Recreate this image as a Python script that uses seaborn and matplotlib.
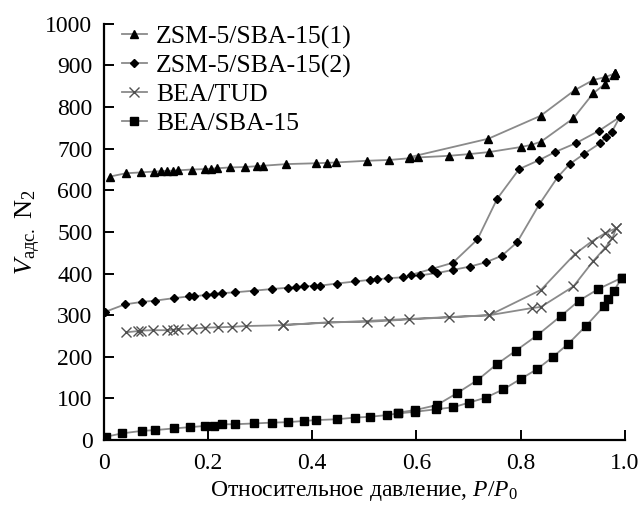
import numpy as np
import pandas as pd
import seaborn as sns
import matplotlib
matplotlib.use('Agg')
import matplotlib.pyplot as plt

# ZSM-5/SBA-15(1): adsorption then desorption branch
zsm1_ads_x = [0.012, 0.043, 0.071, 0.096, 0.110, 0.121, 0.133, 0.143, 0.169, 0.195, 0.207, 0.218,
              0.243, 0.271, 0.294, 0.305, 0.350, 0.407, 0.428, 0.446, 0.505, 0.548, 0.586, 0.604,
              0.663, 0.701, 0.740, 0.800, 0.820, 0.839, 0.901, 0.939, 0.962, 0.978, 0.981]
zsm1_ads_y = [633, 641, 643, 645, 646, 647, 647, 648, 650, 651, 652, 653,
              655, 656, 658, 659, 663, 665, 666, 667, 671, 673, 677, 679,
              683, 687, 692, 704, 709, 717, 773, 833, 856, 877, 881]
zsm1_des_x = [0.981, 0.962, 0.939, 0.904, 0.838, 0.738, 0.588]
zsm1_des_y = [881, 872, 865, 841, 779, 724, 680]

# ZSM-5/SBA-15(2)
zsm2_ads_x = [0.003, 0.041, 0.074, 0.099, 0.135, 0.163, 0.174, 0.196, 0.212, 0.228, 0.252, 0.289,
              0.324, 0.353, 0.369, 0.385, 0.404, 0.415, 0.447, 0.482, 0.511, 0.525, 0.546, 0.575,
              0.607, 0.639, 0.671, 0.703, 0.733, 0.764, 0.793, 0.836, 0.871, 0.894, 0.922, 0.952,
              0.964, 0.975, 0.990]
zsm2_ads_y = [308, 326, 332, 335, 341, 345, 345, 349, 351, 353, 355, 359,
              363, 366, 367, 369, 371, 371, 376, 381, 385, 386, 389, 391,
              396, 401, 409, 417, 427, 443, 475, 567, 632, 663, 688, 713,
              729, 741, 776]
zsm2_des_x = [0.990, 0.950, 0.907, 0.866, 0.836, 0.797, 0.755, 0.717, 0.670, 0.629, 0.590]
zsm2_des_y = [776, 743, 714, 692, 673, 651, 580, 482, 426, 411, 397]

# BEA/TUD
tud_ads_x = [0.044, 0.067, 0.072, 0.094, 0.121, 0.133, 0.142, 0.169, 0.195, 0.220, 0.246, 0.273,
             0.345, 0.431, 0.505, 0.548, 0.586, 0.663, 0.740, 0.821, 0.839, 0.901, 0.939, 0.962,
             0.976, 0.983]
tud_ads_y = [259, 262, 263, 264, 264, 265, 266, 268, 270, 271, 272, 274,
             276, 283, 284, 287, 290, 295, 300, 317, 320, 369, 430, 462,
             485, 509]
tud_des_x = [0.983, 0.962, 0.936, 0.904, 0.839, 0.740, 0.345]
tud_des_y = [509, 497, 477, 447, 361, 300, 277]

# BEA/SBA-15
sba_ads_x = [0.005, 0.035, 0.073, 0.099, 0.135, 0.165, 0.195, 0.212, 0.228, 0.252, 0.289, 0.324,
             0.353, 0.385, 0.407, 0.447, 0.482, 0.511, 0.543, 0.565, 0.597, 0.638, 0.671, 0.701,
             0.733, 0.767, 0.800, 0.831, 0.861, 0.891, 0.925, 0.960, 0.968, 0.978, 0.994]
sba_ads_y = [8, 16, 22, 24, 28, 31, 34, 34, 38, 38, 40, 42,
             43, 46, 48, 50, 54, 56, 60, 64, 68, 74, 79, 90,
             102, 122, 147, 170, 199, 231, 274, 322, 338, 357, 390]
sba_des_x = [0.994, 0.949, 0.912, 0.877, 0.832, 0.791, 0.755, 0.717, 0.677, 0.639, 0.597, 0.565]
sba_des_y = [390, 363, 335, 298, 252, 215, 183, 144, 112, 84, 72, 66]

labels = ['ZSM-5/SBA-15(1)', 'ZSM-5/SBA-15(2)', 'BEA/TUD', 'BEA/SBA-15']

plt.rcParams['font.family'] = ['Liberation Serif', 'DejaVu Serif']
plt.rcParams['mathtext.fontset'] = 'custom'
plt.rcParams['mathtext.rm'] = 'Liberation Serif'
plt.rcParams['mathtext.it'] = 'Liberation Serif:italic'

fig = plt.figure(figsize=(6.43, 5.07), dpi=100)
ax = fig.add_axes([0.161, 0.132, 0.811, 0.821])

series = [
    (zsm1_ads_x + zsm1_des_x, zsm1_ads_y + zsm1_des_y, '^', 5.5, 'black'),
    (zsm2_ads_x + zsm2_des_x, zsm2_ads_y + zsm2_des_y, 'D', 4, 'black'),
    (tud_ads_x + tud_des_x, tud_ads_y + tud_des_y, 'x', 7, '#505050'),
    (sba_ads_x + sba_des_x, sba_ads_y + sba_des_y, 's', 5.5, 'black'),
]

for (xs, ys, mk, ms, mc), lab in zip(series, labels):
    sns.lineplot(x=xs, y=ys, sort=False, estimator=None, ax=ax, label=lab,
                 color='#8a8a8a', linewidth=1.3, marker=mk, markersize=ms,
                 markerfacecolor=mc, markeredgecolor=mc, markeredgewidth=1.0)

ax.set_xlim(0, 1.0)
ax.set_ylim(0, 1000)
ax.set_xticks([0, 0.2, 0.4, 0.6, 0.8, 1.0])
ax.set_xticklabels(['0', '0.2', '0.4', '0.6', '0.8', '1.0'])
ax.set_yticks(range(0, 1001, 100))
ax.tick_params(direction='in', length=7, width=1.4, labelsize=17)
ax.tick_params(axis='x', pad=9)
ax.tick_params(axis='y', pad=8)
for side in ['top', 'right']:
    ax.spines[side].set_visible(False)
for side in ['left', 'bottom']:
    ax.spines[side].set_linewidth(1.6)

ax.set_xlabel('Относительное давление, $P/P_0$', fontsize=17, labelpad=4)
ax.set_ylabel('$V_{\\mathrm{адс.}}$ N$_2$', fontsize=19, labelpad=2)

ax.legend(loc='upper left', bbox_to_anchor=(0.0, 1.04), frameon=False, fontsize=18.5,
          handlelength=1.0, handletextpad=0.35, labelspacing=0.22, borderaxespad=0.3)

fig.savefig('out.png', dpi=100)
